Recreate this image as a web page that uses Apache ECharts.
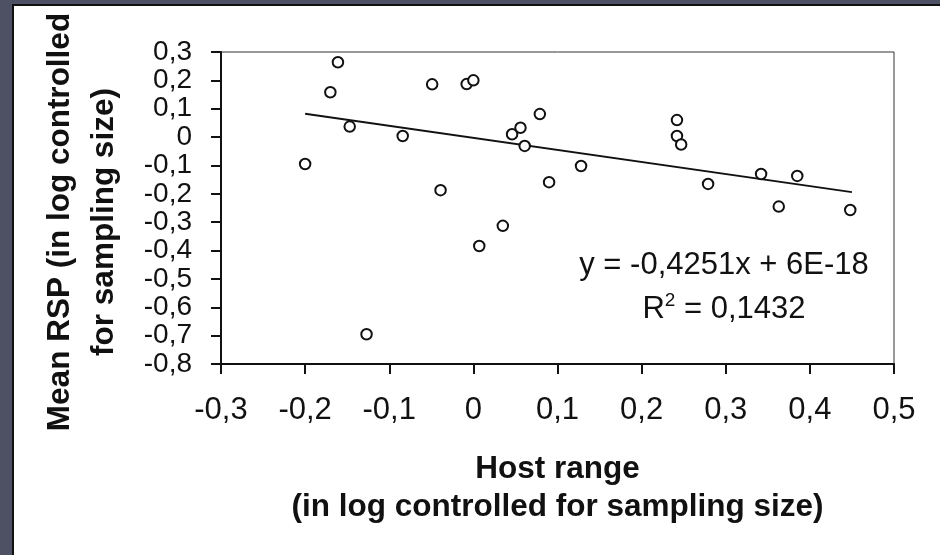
<!DOCTYPE html>
<html>
<head>
<meta charset="utf-8">
<script src="https://cdn.jsdelivr.net/npm/echarts@6/dist/echarts.min.js"></script>
<style>
  html, body { margin: 0; padding: 0; background: #4e5163; }
  #frame {
    position: absolute; left: 12px; top: 4px; right: 0; bottom: 0;
    background: #fff; border-left: 2px solid #111; border-top: 2px solid #111;
  }
  #chart { position: absolute; left: 0; top: 0; width: 940px; height: 555px; }
</style>
</head>
<body>
<div id="frame"></div>
<div id="chart"></div>
<script>
// host range (x) vs mean RSP (y), both in log controlled for sampling size
const hostRange = [
  -0.200, -0.161, -0.170, -0.147, -0.084, -0.049, -0.039, -0.008, 0.000, -0.127,
  0.079, 0.056, 0.046, 0.061, 0.128, 0.090, 0.035, 0.007,
  0.242, 0.242, 0.247, 0.279, 0.342, 0.385, 0.363, 0.448
];
const meanRSP = [
  -0.095, 0.264, 0.158, 0.037, 0.004, 0.186, -0.187, 0.187, 0.200, -0.695,
  0.081, 0.033, 0.010, -0.031, -0.102, -0.159, -0.313, -0.384,
  0.060, 0.004, -0.026, -0.165, -0.130, -0.137, -0.245, -0.257
];
// end points of the fitted line, as drawn
const trendX = [-0.200, 0.450];
const trendY = [0.082, -0.194];

const equationText = 'y = -0,4251x + 6E-18';
const r2Text = '{n|R}{sup|2}{n| = 0,1432}';

const fmt = v => {
  const r = Math.round(v * 10) / 10;
  return r === 0 ? '0' : r.toFixed(1).replace('.', ',');
};

const FONT = '"Liberation Sans", Arial, sans-serif';

const chart = echarts.init(document.getElementById('chart'), null, { renderer: 'canvas' });

chart.setOption({
  backgroundColor: 'transparent',
  animation: false,
  grid: {
    left: 221, right: 46, top: 52, bottom: 191,
    show: true, borderColor: '#333', borderWidth: 1, backgroundColor: 'transparent'
  },
  xAxis: {
    type: 'value',
    min: -0.3, max: 0.5, interval: 0.1,
    axisLine: { onZero: false, lineStyle: { color: '#111', width: 2 } },
    axisTick: { show: true, length: 10, lineStyle: { color: '#111', width: 2 } },
    splitLine: { show: false },
    axisLabel: { formatter: fmt, color: '#111', fontSize: 31, fontFamily: FONT, margin: 31 },
    name: 'Host range\n(in log controlled for sampling size)',
    nameLocation: 'middle',
    nameGap: 86,
    nameTextStyle: { color: '#111', fontSize: 31.5, fontWeight: 'bold', fontFamily: FONT, lineHeight: 38 }
  },
  yAxis: {
    type: 'value',
    min: -0.8, max: 0.3, interval: 0.1,
    axisLine: { onZero: false, lineStyle: { color: '#111', width: 2 } },
    axisTick: { show: true, length: 10, lineStyle: { color: '#111', width: 2 } },
    splitLine: { show: false },
    axisLabel: { formatter: fmt, color: '#111', fontSize: 28, fontFamily: FONT, margin: 29 }
  },
  graphic: [
    {
      type: 'text', x: 82, y: 222, rotation: Math.PI / 2,
      style: {
        text: 'Mean RSP (in log controlled\nfor sampling size)',
        fill: '#111', font: 'bold 31.5px ' + FONT, lineHeight: 44,
        align: 'center', verticalAlign: 'middle'
      }
    },
    {
      type: 'text', x: 724, y: 265,
      style: {
        text: equationText, fill: '#111', font: '31px ' + FONT,
        align: 'center', verticalAlign: 'middle'
      }
    },
    {
      type: 'text', x: 724, y: 308,
      style: {
        text: r2Text, fill: '#111', align: 'center', verticalAlign: 'middle',
        rich: {
          n: { fontSize: 31, fontFamily: FONT, fill: '#111', verticalAlign: 'bottom' },
          sup: { fontSize: 19, fontFamily: FONT, fill: '#111', padding: [0, 0, 14, 0], verticalAlign: 'bottom' }
        }
      }
    }
  ],
  series: [
    {
      type: 'line',
      data: trendX.map((x, i) => [x, trendY[i]]),
      symbol: 'none',
      lineStyle: { color: '#111', width: 2 },
      z: 2
    },
    {
      type: 'scatter',
      data: hostRange.map((x, i) => [x, meanRSP[i]]),
      symbol: 'circle',
      symbolSize: 10.5,
      itemStyle: { color: '#fff', borderColor: '#111', borderWidth: 2, opacity: 1 },
      z: 3
    }
  ]
});
</script>
</body>
</html>
